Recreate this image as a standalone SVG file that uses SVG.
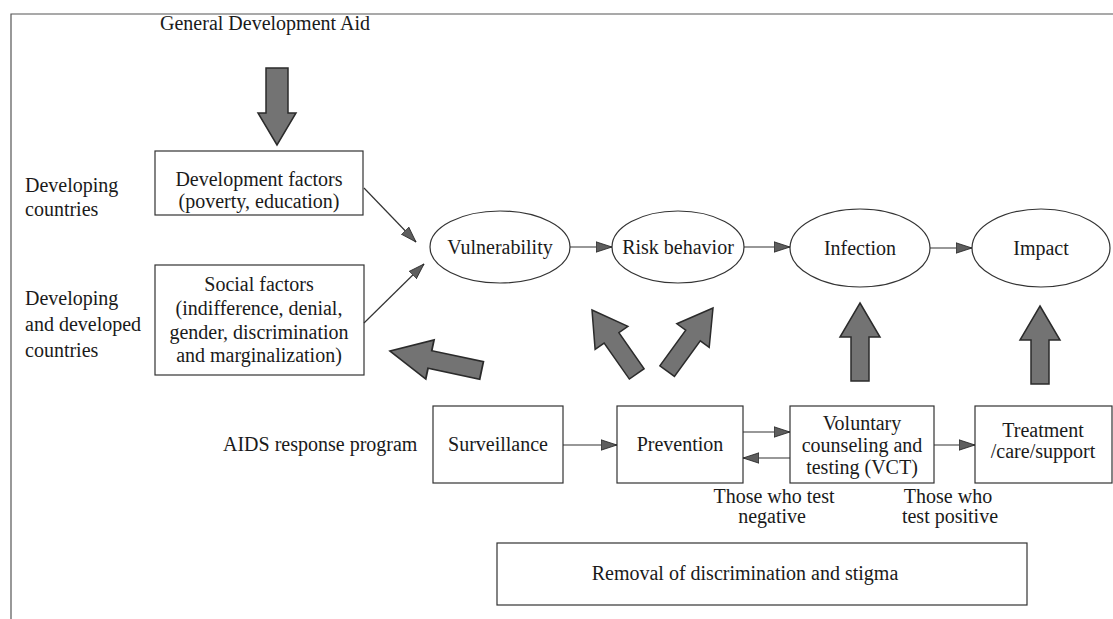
<svg xmlns="http://www.w3.org/2000/svg" width="1113" height="619" viewBox="0 0 1113 619">
<style>
  text { font-family: "Liberation Serif", "Times New Roman", serif; font-size: 20px; fill: #1a1a1a; }
  .c { text-anchor: middle; }
  .box { fill: #fff; stroke: #333; stroke-width: 1.2; }
  .ell { fill: #fff; stroke: #333; stroke-width: 1.2; }
  .conn { stroke: #333; stroke-width: 1.2; fill: none; marker-end: url(#ah); }
  .fat { fill: #737373; stroke: #2b2b2b; stroke-width: 1.5; stroke-linejoin: miter; }
  .frame { stroke: #555; stroke-width: 1.2; fill: none; }
</style>
<defs>
  <marker id="ah" markerWidth="18" markerHeight="12" refX="16" refY="6" orient="auto" markerUnits="userSpaceOnUse">
    <path d="M0,0.8 L16,6 L0,11.2 Z" fill="#5e5e5e" stroke="#222" stroke-width="0.8"/>
  </marker>
  <path id="fatUp" d="M0,0 L20,34 L9,34 L9,78 L-9,78 L-9,34 L-20,34 Z"/>
</defs>

<path class="frame" d="M11,619 L11,14 L1113,14"/>

<g id="gda">
  <text class="c" x="265" y="30">General Development Aid</text>
  <path class="fat" d="M266,68 L288,68 L288,113 L296,113 L277,145 L258,113 L266,113 Z"/>
</g>

<g id="lbl-developing">
  <text x="25" y="192">Developing</text>
  <text x="25" y="216">countries</text>
</g>
<g id="lbl-both">
  <text x="25" y="305">Developing</text>
  <text x="25" y="331">and developed</text>
  <text x="25" y="357">countries</text>
</g>

<g id="dev-factors">
  <rect class="box" x="155" y="151" width="208" height="64"/>
  <text class="c" x="259" y="186">Development factors</text>
  <text class="c" x="259" y="208">(poverty, education)</text>
</g>

<g id="social-factors">
  <rect class="box" x="155" y="265" width="209" height="110"/>
  <text class="c" x="259" y="291">Social factors</text>
  <text class="c" x="259" y="315">(indifference, denial,</text>
  <text class="c" x="259" y="339">gender, discrimination</text>
  <text class="c" x="259" y="362">and marginalization)</text>
</g>

<g id="vulnerability">
  <ellipse class="ell" cx="500" cy="247" rx="70" ry="36"/>
  <text class="c" x="500" y="254">Vulnerability</text>
</g>
<g id="risk">
  <ellipse class="ell" cx="678" cy="247" rx="66" ry="36"/>
  <text class="c" x="678" y="254">Risk behavior</text>
</g>
<g id="infection">
  <ellipse class="ell" cx="860" cy="248" rx="70" ry="39"/>
  <text class="c" x="860" y="255">Infection</text>
</g>
<g id="impact">
  <ellipse class="ell" cx="1041" cy="248" rx="69" ry="39"/>
  <text class="c" x="1041" y="255">Impact</text>
</g>

<g id="aids-program">
  <text x="223" y="451">AIDS response program</text>
</g>
<g id="surveillance">
  <rect class="box" x="433" y="406" width="130" height="77"/>
  <text class="c" x="498" y="451">Surveillance</text>
</g>
<g id="prevention">
  <rect class="box" x="617" y="406" width="126" height="77"/>
  <text class="c" x="680" y="451">Prevention</text>
</g>
<g id="vct">
  <rect class="box" x="790" y="406" width="144" height="77"/>
  <text class="c" x="862" y="430">Voluntary</text>
  <text class="c" x="862" y="452">counseling and</text>
  <text class="c" x="862" y="474">testing (VCT)</text>
</g>
<g id="treatment">
  <rect class="box" x="975" y="406" width="137" height="77"/>
  <text class="c" x="1043" y="437">Treatment</text>
  <text class="c" x="1043" y="458">/care/support</text>
</g>

<g id="lbl-negative">
  <text class="c" x="774" y="503">Those who test</text>
  <text class="c" x="772" y="523">negative</text>
</g>
<g id="lbl-positive">
  <text class="c" x="948" y="503">Those who</text>
  <text class="c" x="950" y="523">test positive</text>
</g>

<g id="removal">
  <rect class="box" x="497" y="543" width="530" height="62"/>
  <text class="c" x="745" y="580">Removal of discrimination and stigma</text>
</g>

<g id="connectors">
  <line class="conn" x1="364" y1="188" x2="416" y2="242"/>
  <line class="conn" x1="364" y1="323" x2="424" y2="264"/>
  <line class="conn" x1="570" y1="247" x2="612" y2="247"/>
  <line class="conn" x1="744" y1="247" x2="790" y2="247"/>
  <line class="conn" x1="930" y1="248" x2="972" y2="248"/>
  <line class="conn" x1="563" y1="445" x2="617" y2="445"/>
  <line class="conn" x1="743" y1="432" x2="790" y2="432"/>
  <line class="conn" x1="790" y1="458" x2="743" y2="458"/>
  <line class="conn" x1="934" y1="445" x2="975" y2="445"/>
  <use class="fat" href="#fatUp" transform="translate(390,351) rotate(-78) scale(1,1.2)"/>
  <use class="fat" href="#fatUp" transform="translate(592,310) rotate(-35)"/>
  <use class="fat" href="#fatUp" transform="translate(713,308) rotate(36)"/>
  <use class="fat" href="#fatUp" transform="translate(860,303)"/>
  <use class="fat" href="#fatUp" transform="translate(1040,306)"/>
</g>
</svg>
